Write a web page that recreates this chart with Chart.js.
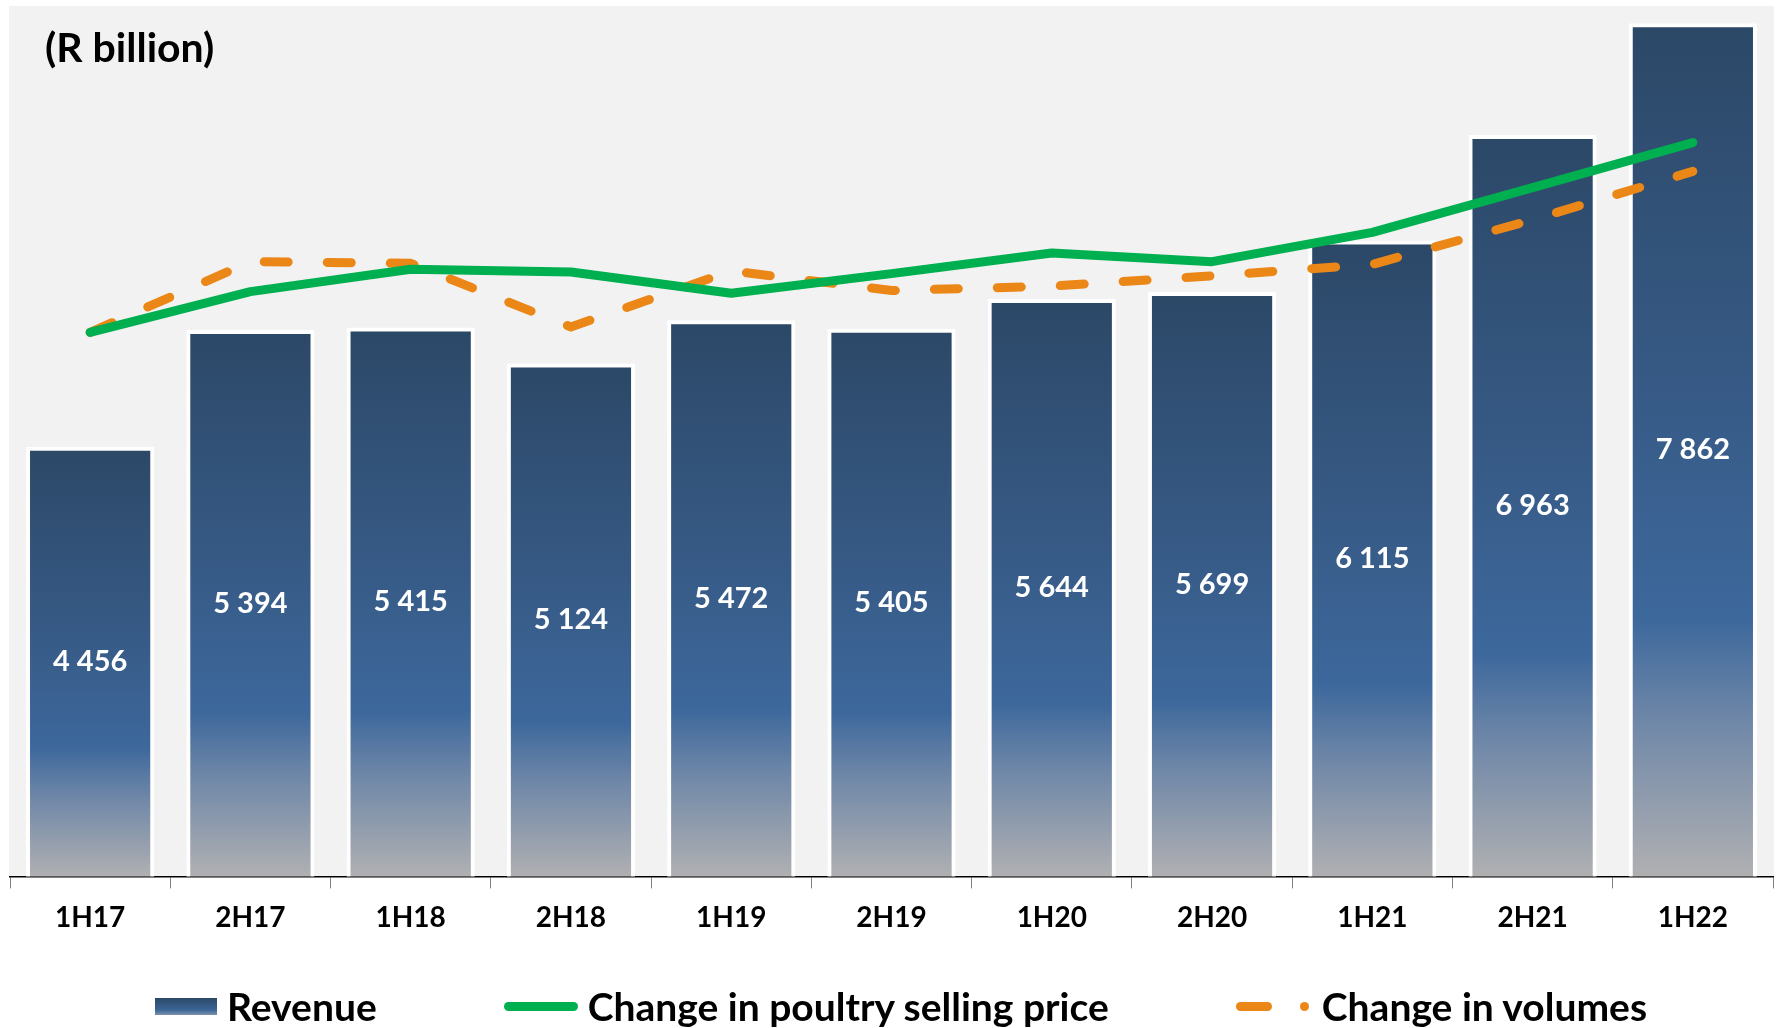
<!DOCTYPE html>
<html>
<head>
<style>
    body { margin: 0; background: #ffffff; }
    #wrap { position: relative; width: 1779px; height: 1028px; }
    #unit { position: absolute; left: 45px; top: 25px; font: bold 41px Lato; line-height: 44px; color: #000; }
    #legend { position: absolute; left: 155px; top: 982px; height: 48px; display: flex; align-items: center; gap: 127px; font: bold 39px Lato; color: #000; }
    .item { display: flex; align-items: center; gap: 10px; white-space: nowrap; }
    .revbox { width: 62px; height: 17px; background: linear-gradient(#2c4867, #3b6596 70%, #7d93ad); }
    .greenline { width: 74px; height: 9px; border-radius: 5px; background: #00b050; }
    .orangemark { display: flex; align-items: center; width: 76px; }
    .orangemark .dash { width: 36px; height: 9px; border-radius: 5px; background: #eb8717; }
    .orangemark .dot { width: 9px; height: 9px; border-radius: 5px; background: #eb8717; margin-left: 28px; }
</style>
</head>
<body>
<script src="https://cdn.jsdelivr.net/npm/chart.js"></script>
<div id="wrap">
    <canvas id="canvas" width="1779" height="1028"></canvas>
    <div id="unit">(R billion)</div>
    <div id="legend"></div>
</div>
<script>
    const periods = ["1H17", "2H17", "1H18", "2H18", "1H19", "2H19", "1H20", "2H20", "1H21", "2H21", "1H22"];
    const revenue = [4456, 5394, 5415, 5124, 5472, 5405, 5644, 5699, 6115, 6963, 7862];
    // index lines (1H17 = 100)
    const poultryPrice = [100, 107.5, 111.6, 111.1, 107.2, 110.8, 114.6, 113.0, 118.4, 126.6, 134.9];
    const volumes = [100, 113.0, 112.7, 101.0, 111.3, 107.7, 108.5, 110.4, 112.5, 120.7, 129.6];

    const green = "#00b050";
    const orange = "#eb8717";

    function withSpaces(x) {
        return x.toString().replace(/\B(?=(\d{3})+(?!\d))/g, " ");
    }

    // each bar gets its own vertical gradient, dark top to grey bottom
    function barGradient(context) {
        const chart = context.chart;
        const area = chart.chartArea;
        if (!area || context.type !== "data") return "#34588a";
        const top = chart.scales.y.getPixelForValue(revenue[context.dataIndex]);
        const g = chart.ctx.createLinearGradient(0, top, 0, area.bottom);
        g.addColorStop(0, "#2c4867");
        g.addColorStop(0.45, "#375b87");
        g.addColorStop(0.7, "#3d689c");
        g.addColorStop(0.82, "#7088a8");
        g.addColorStop(1, "#b0b0b2");
        return g;
    }

    const plotBackground = {
        id: "plotBackground",
        beforeDraw(chart) {
            const a = chart.chartArea;
            const ctx = chart.ctx;
            ctx.save();
            ctx.fillStyle = "#f2f2f2";
            ctx.fillRect(a.left - 1, a.top, a.right - a.left + 2, a.bottom - a.top);
            ctx.restore();
        }
    };

    // value labels in the middle of the visible part of each bar
    const barLabels = {
        id: "barLabels",
        afterDatasetsDraw(chart) {
            const meta = chart.getDatasetMeta(0);
            const bottom = chart.chartArea.bottom;
            const ctx = chart.ctx;
            ctx.save();
            ctx.fillStyle = "#ffffff";
            ctx.font = "bold 29px Lato";
            ctx.textAlign = "center";
            ctx.textBaseline = "middle";
            meta.data.forEach((bar, i) => {
                const base = Math.min(bar.base, bottom);
                ctx.fillText(withSpaces(revenue[i]), bar.x, (bar.y + base) / 2);
            });
            ctx.restore();
        }
    };

    const chart = new Chart(document.getElementById("canvas"), {
        type: "bar",
        data: {
            labels: periods,
            datasets: [
                {
                    label: "Revenue",
                    data: revenue,
                    backgroundColor: barGradient,
                    borderColor: "#ffffff",
                    borderWidth: 4,
                    borderSkipped: false,
                    barPercentage: 0.8,
                    categoryPercentage: 1,
                    yAxisID: "y",
                    order: 3
                },
                {
                    type: "line",
                    label: "Change in poultry selling price",
                    data: poultryPrice,
                    borderColor: green,
                    backgroundColor: green,
                    borderWidth: 9,
                    borderCapStyle: "round",
                    borderJoinStyle: "round",
                    pointRadius: 0,
                    tension: 0,
                    yAxisID: "y2",
                    order: 1
                },
                {
                    type: "line",
                    label: "Change in volumes",
                    data: volumes,
                    borderColor: orange,
                    backgroundColor: orange,
                    borderWidth: 9,
                    borderDash: [24, 39],
                    borderCapStyle: "round",
                    pointRadius: 0,
                    tension: 0,
                    yAxisID: "y2",
                    order: 2
                }
            ]
        },
        options: {
            responsive: false,
            animation: false,
            events: [],
            layout: { padding: { left: 10, right: 6, top: 6, bottom: 80 } },
            plugins: {
                legend: { display: false },
                tooltip: { enabled: false }
            },
            scales: {
                x: {
                    grid: { drawOnChartArea: false, drawTicks: true, tickLength: 12, color: "#7f7f7f", lineWidth: 1 },
                    border: { display: true, color: "#000000", width: 1.5 },
                    ticks: { color: "#000000", font: { family: "Lato", weight: "bold", size: 28 }, padding: 13 }
                },
                y: { display: false, min: 1000, max: 8000 },
                y2: { display: false, min: 0, max: 160 }
            }
        },
        plugins: [plotBackground, barLabels]
    });

    // legend under the chart, built from the datasets
    const legend = document.getElementById("legend");
    chart.data.datasets.forEach((ds, i) => {
        const item = document.createElement("div");
        item.className = "item";
        let mark;
        if (i === 0) {
            mark = '<div class="revbox"></div>';
        } else if (i === 1) {
            mark = '<div class="greenline"></div>';
        } else {
            mark = '<div class="orangemark"><div class="dash"></div><div class="dot"></div></div>';
        }
        item.innerHTML = mark + "<span>" + ds.label + "</span>";
        legend.appendChild(item);
    });
</script>
</body>
</html>
